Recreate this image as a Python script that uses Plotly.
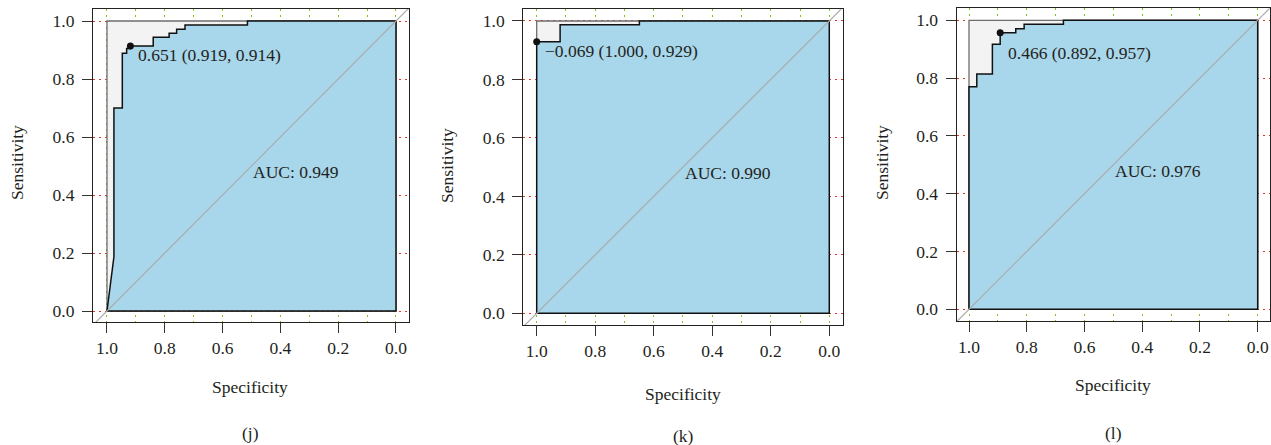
import plotly.graph_objects as go

W, H = 1271, 445

# ---------------- data ----------------
spec_j = [1.0, 0.976, 0.976, 0.947, 0.947, 0.932, 0.932, 0.919, 0.919, 0.840, 0.840, 0.785, 0.785,
          0.759, 0.759, 0.730, 0.730, 0.514, 0.514, 0.0]
sens_j = [0.0, 0.187, 0.700, 0.700, 0.889, 0.889, 0.905, 0.905, 0.914, 0.914, 0.944, 0.944, 0.958,
          0.958, 0.972, 0.972, 0.986, 0.986, 1.0, 1.0]

spec_k = [1.0, 1.0, 0.920, 0.920, 0.649, 0.649, 0.0]
sens_k = [0.0, 0.929, 0.929, 0.987, 0.987, 1.0, 1.0]

spec_l = [1.0, 1.0, 0.973, 0.973, 0.919, 0.919, 0.892, 0.892, 0.838, 0.838, 0.809, 0.809,
          0.673, 0.673, 0.0]
sens_l = [0.0, 0.770, 0.770, 0.814, 0.814, 0.917, 0.917, 0.957, 0.957, 0.971, 0.971, 0.986,
          0.986, 1.0, 1.0]

thr_labels = ["0.651 (0.919, 0.914)", "\u22120.069 (1.000, 0.929)", "0.466 (0.892, 0.957)"]
thr_spec = [0.919, 1.000, 0.892]
thr_sens = [0.914, 0.929, 0.957]
auc_labels = ["AUC: 0.949", "AUC: 0.990", "AUC: 0.976"]
captions = ["(j)", "(k)", "(l)"]

tick_vals = [0.0, 0.2, 0.4, 0.6, 0.8, 1.0]
tick_text = ["0.0", "0.2", "0.4", "0.6", "0.8", "1.0"]

# ---------------- layout geometry (pixels) ----------------
geo = [
    dict(l=93, r=409, t=9, b=322, xr=[1.0484, -0.045], yr=[-0.0379, 1.0414],
         ylab=(17, 163), xlab=(250, 387), cap=(250, 433), thr_dy=-9),
    dict(l=523.3, r=843.3, t=9.3, b=325.3, xr=[1.0458, -0.0479], yr=[-0.041, 1.040],
         ylab=(447, 166), xlab=(683, 394), cap=(683, 436), thr_dy=-9),
    dict(l=956.7, r=1270, t=8.3, b=321, xr=[1.0426, -0.0426], yr=[-0.0405, 1.0415],
         ylab=(882, 163), xlab=(1113, 385), cap=(1113, 433), thr_dy=-20),
]

FONT = "Liberation Serif, Times New Roman, serif"
FS = 17.5
TXT = "#231F20"
BLUE = "#A8D6EA"
GREY = "#F3F3F3"
GREEN = "#7DC21E"
RED = "#EE2E24"

curves = [(spec_j, sens_j), (spec_k, sens_k), (spec_l, sens_l)]

fig = go.Figure()
annotations = []

for i, (g, (sx, sy)) in enumerate(zip(geo, curves)):
    xa = "x" if i == 0 else f"x{i+1}"
    ya = "y" if i == 0 else f"y{i+1}"
    fig.add_trace(go.Scatter(x=[1, 1, 0, 0, 1], y=[0, 1, 1, 0, 0], mode="lines", fill="toself",
                             fillcolor=GREY, line=dict(color="#6E6E6E", width=1.3),
                             xaxis=xa, yaxis=ya, hoverinfo="skip", showlegend=False))
    px = list(sx) + [0.0, 1.0]
    py = list(sy) + [0.0, 0.0]
    fig.add_trace(go.Scatter(x=px, y=py, mode="lines", fill="toself", fillcolor=BLUE,
                             line=dict(color="#111111", width=1.5),
                             xaxis=xa, yaxis=ya, hoverinfo="skip", showlegend=False))
    fig.add_trace(go.Scatter(x=[1.2, -0.2], y=[-0.2, 1.2], mode="lines",
                             line=dict(color="#ABABAB", width=1.2),
                             xaxis=xa, yaxis=ya, hoverinfo="skip", showlegend=False))
    fig.add_trace(go.Scatter(x=[thr_spec[i]], y=[thr_sens[i]], mode="markers",
                             marker=dict(color="#111111", size=7), cliponaxis=False,
                             xaxis=xa, yaxis=ya, hoverinfo="skip", showlegend=False))

    dom_x = [g["l"] / W, g["r"] / W]
    dom_y = [1 - g["b"] / H, 1 - g["t"] / H]
    common = dict(showline=True, mirror=True, linecolor="#222222", linewidth=1.2,
                  ticks="outside", ticklen=10, tickwidth=1.2, tickcolor="#333333",
                  tickvals=tick_vals, ticktext=tick_text, zeroline=False,
                  tickfont=dict(family=FONT, size=FS, color=TXT))
    fig.update_layout(**{
        ("xaxis" if i == 0 else f"xaxis{i+1}"): dict(
            domain=dom_x, range=g["xr"], anchor=ya, showgrid=True, gridcolor=GREEN,
            griddash="2px,4px", gridwidth=1, ticklabelstandoff=0,
            minor=dict(dtick=0.1, tick0=0, showgrid=True, gridcolor=GREEN,
                       griddash="2px,4px", gridwidth=1, ticks=""),
            **common),
        ("yaxis" if i == 0 else f"yaxis{i+1}"): dict(
            domain=dom_y, range=g["yr"], anchor=xa, showgrid=True, gridcolor=RED,
            griddash="2px,4px", gridwidth=1, ticklabelstandoff=4, **common),
    })

    annotations.append(dict(x=thr_spec[i], y=thr_sens[i], xref=xa, yref=ya, text=thr_labels[i],
                            showarrow=False, xanchor="left", yanchor="middle", xshift=6,
                            yshift=g["thr_dy"], font=dict(family=FONT, size=FS, color=TXT)))
    annotations.append(dict(x=0.5, y=0.48, xref=xa, yref=ya, text=auc_labels[i],
                            showarrow=False, xanchor="left", yanchor="middle",
                            font=dict(family=FONT, size=FS, color=TXT)))
    annotations.append(dict(x=g["ylab"][0] / W, y=1 - g["ylab"][1] / H, xref="paper", yref="paper",
                            text="Sensitivity", textangle=-90, showarrow=False,
                            xanchor="center", yanchor="middle",
                            font=dict(family=FONT, size=FS, color=TXT)))
    annotations.append(dict(x=g["xlab"][0] / W, y=1 - g["xlab"][1] / H, xref="paper", yref="paper",
                            text="Specificity", showarrow=False,
                            xanchor="center", yanchor="middle",
                            font=dict(family=FONT, size=FS, color=TXT)))
    annotations.append(dict(x=g["cap"][0] / W, y=1 - g["cap"][1] / H, xref="paper", yref="paper",
                            text=captions[i], showarrow=False,
                            xanchor="center", yanchor="middle",
                            font=dict(family=FONT, size=FS, color=TXT)))

fig.update_layout(width=W, height=H, margin=dict(l=0, r=0, t=0, b=0),
                  paper_bgcolor="white", plot_bgcolor="white",
                  annotations=annotations, showlegend=False)

fig.write_html("out.html")
